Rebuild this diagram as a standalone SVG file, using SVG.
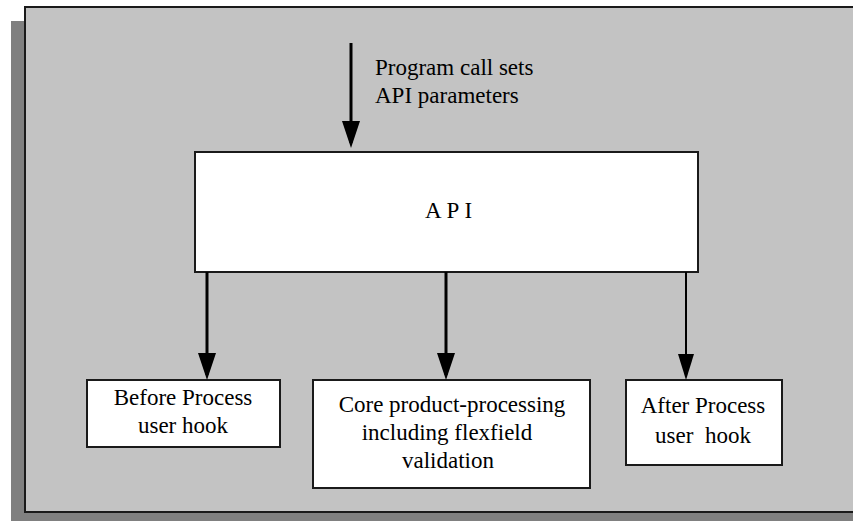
<svg xmlns="http://www.w3.org/2000/svg" width="853" height="521" viewBox="0 0 853 521">
  <style>
    .lbl { font-family: "Liberation Serif", "Times New Roman", serif; font-size: 23px; fill: #000; }
    .box { fill: #fff; stroke: #1a1a1a; stroke-width: 2; }
    .conn { stroke: #000; fill: none; }
  </style>
  <defs>
    <marker id="headBig" markerUnits="userSpaceOnUse" markerWidth="27" markerHeight="18" refX="22" refY="9" orient="auto">
      <path d="M0,0 L27,9 L0,18 Z" fill="#000"/>
    </marker>
    <marker id="headSmall" markerUnits="userSpaceOnUse" markerWidth="26" markerHeight="16" refX="21" refY="8" orient="auto">
      <path d="M0,0 L26,8 L0,16 Z" fill="#000"/>
    </marker>
  </defs>

  <rect x="0" y="0" width="853" height="521" fill="#fff"/>
  <!-- shadow -->
  <rect id="shadow" x="11" y="21" width="842" height="500" fill="#808080"/>
  <!-- panel -->
  <rect id="panel" x="25" y="7" width="840" height="505" fill="#c3c3c3" stroke="#1a1a1a" stroke-width="2"/>

  <g id="api">
    <rect class="box" x="195" y="152" width="503" height="120"/>
    <text class="lbl" x="425" y="218" letter-spacing="5">API</text>
  </g>

  <g id="input-label">
    <text class="lbl" x="375" y="75">Program call sets</text>
    <text class="lbl" x="375" y="103">API parameters</text>
  </g>

  <g id="before">
    <rect class="box" x="87" y="380" width="193" height="67"/>
    <text class="lbl" x="183" y="405" text-anchor="middle">Before Process</text>
    <text class="lbl" x="183" y="433" text-anchor="middle">user hook</text>
  </g>

  <g id="core">
    <rect class="box" x="313" y="380" width="277" height="108"/>
    <text class="lbl" x="452" y="412" text-anchor="middle">Core product-processing</text>
    <text class="lbl" x="447" y="440" text-anchor="middle">including flexfield</text>
    <text class="lbl" x="448" y="468" text-anchor="middle">validation</text>
  </g>

  <g id="after">
    <rect class="box" x="626" y="380" width="156" height="85"/>
    <text class="lbl" x="703" y="413" text-anchor="middle">After Process</text>
    <text class="lbl" x="703" y="443" text-anchor="middle" xml:space="preserve">user  hook</text>
  </g>

  <g id="connectors">
    <line class="conn" x1="351" y1="43" x2="351" y2="143" stroke-width="3" marker-end="url(#headBig)"/>
    <line class="conn" x1="207" y1="272" x2="207" y2="375" stroke-width="3" marker-end="url(#headBig)"/>
    <line class="conn" x1="446" y1="272" x2="446" y2="375" stroke-width="3" marker-end="url(#headBig)"/>
    <line class="conn" x1="686" y1="272" x2="686" y2="375" stroke-width="2" marker-end="url(#headSmall)"/>
  </g>
</svg>
